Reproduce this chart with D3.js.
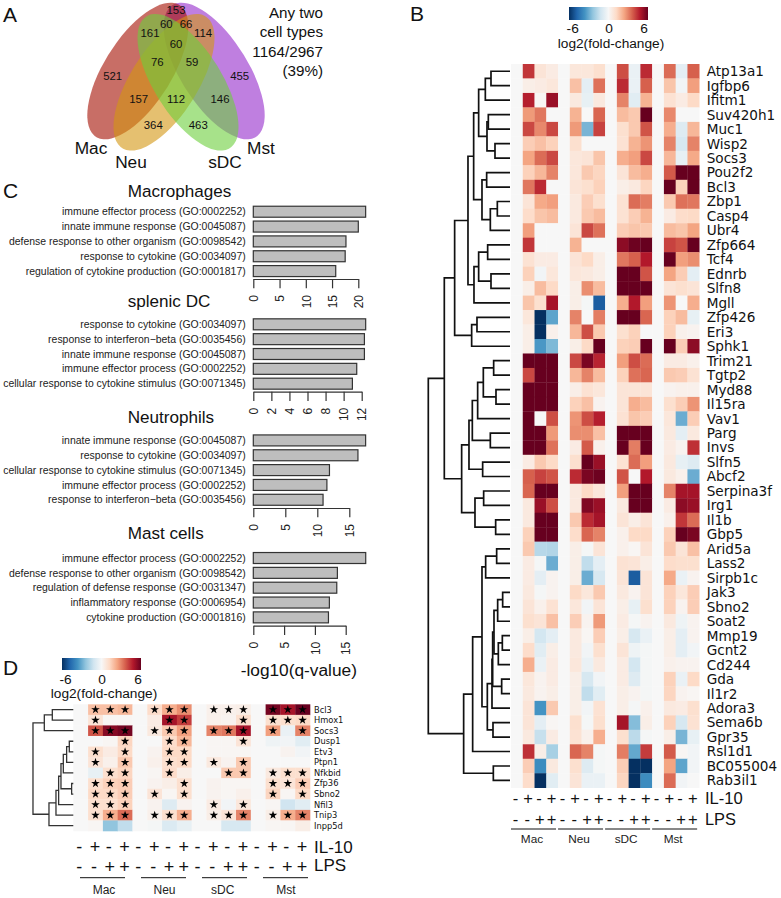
<!DOCTYPE html>
<html>
<head>
<meta charset="utf-8">
<script src="https://d3js.org/d3.v7.min.js"></script>
<style>
  body { margin: 0; background: #fff; }
  svg { display: block; font-family: "Liberation Sans", Arial, sans-serif; fill: #111; }
</style>
</head>
<body>
<svg id="fig" width="781" height="898"></svg>
<script>
// Panel A
const vennSets = ['Mst', 'Mac', 'Neu', 'sDC'];
const vennColors = ['#942acb', '#a30d00', '#d49611', '#6ccf3c'];
const vennCounts = [153, 60, 66, 161, 114, 60, 76, 59, 521, 455, 157, 112, 146, 364, 463];
const vennNote = ['Any two', 'cell types', '1164/2967', '(39%)'];

// Panel B
const genesB = ['Atp13a1', 'Igfbp6', 'Ifitm1', 'Suv420h1', 'Muc1', 'Wisp2', 'Socs3', 'Pou2f2', 'Bcl3', 'Zbp1',
  'Casp4', 'Ubr4', 'Zfp664', 'Tcf4', 'Ednrb', 'Slfn8', 'Mgll', 'Zfp426', 'Eri3', 'Sphk1',
  'Trim21', 'Tgtp2', 'Myd88', 'Il15ra', 'Vav1', 'Parg', 'Invs', 'Slfn5', 'Abcf2', 'Serpina3f',
  'Irg1', 'Il1b', 'Gbp5', 'Arid5a', 'Lass2', 'Sirpb1c', 'Jak3', 'Sbno2', 'Soat2', 'Mmp19',
  'Gcnt2', 'Cd244', 'Gda', 'Il1r2', 'Adora3', 'Sema6b', 'Gpr35', 'Rsl1d1', 'BC055004', 'Rab3il1'];

// one row per gene, IL-10+ / LPS+ / both for Mac, Neu, sDC, Mst (the untreated column is always 0)
const foldB = [
  [4.3, 0.8, 0.5, 0.7, 0.7, 1.0, 3.9, -0.4, 4.5, 3.4, -0.6, 3.6],
  [0.4, 0.5, 0.7, 1.8, -0.6, 3.3, 4.5, -0.4, 3.6, 1.7, -0.2, 2.5],
  [4.7, 0.1, 5.2, 0.6, -0.5, 0.6, 3.0, -0.7, 2.1, 0.9, 0.5, 1.2],
  [2.6, 3.2, 0, 2.1, 0, 3.5, 1.9, 1.6, 6, 2.9, 0, 0],
  [4.0, 2.9, 4.0, 2.6, -2.8, 4.1, 1.0, 1.6, 3.8, 2.2, -0.8, 2.0],
  [1.5, 1.8, 1.4, 1.0, 0, 0, 0.9, 2.1, 2.7, 3.0, -1.0, 3.0],
  [2.4, 3.4, 4.0, 0.7, 0.8, 1.7, 2.2, 2.5, 4.0, 2.0, -0.5, 2.3],
  [1.4, 2.0, 3.0, 0.7, 1.6, 1.3, 0.8, 1.9, 2.2, 3.7, 6, 6],
  [3.2, 4.5, 0, 0.8, 1.0, 1.4, 0.4, 0.6, 1.3, 6, 1.4, 6],
  [0.8, 2.3, 2.5, 0.6, 1.5, 1.0, 0.9, 3.4, 3.1, 1.6, 3.3, 3.2],
  [1.1, 1.7, 1.9, 0.6, 1.6, 1.9, 0.9, 1.5, 2.1, 0.5, 1.1, 1.2],
  [2.5, 0, 0, 0.8, 4.0, 3.3, 1.5, 1.7, 1.6, 1.9, 1.7, 2.4],
  [4.3, 0, 0, 2.1, 0, 0, 5.4, 5.9, 6, 4.1, 3.8, 6],
  [0.9, 0.5, 0.5, 0.8, 1.2, 0.4, 3.2, 3.6, 4.8, 6, 2.5, 2.8],
  [1.4, -0.2, 0.7, 0.7, 0.6, 0.4, 6, 6, 3.8, 2.4, 1.5, -0.6],
  [0.4, 1.9, 1.2, 0.4, 2.8, 1.9, 6, 6, 6, 0.8, 1.0, 0.8],
  [1.7, 1.0, 5.0, 0.4, -0.1, -5, 2.2, 4.8, 2.5, 2.7, 0, 2.2],
  [0.7, -6, -3.2, 3.0, 0, 3.1, 6, 6, 3.5, 1.4, 1.9, -0.5],
  [0.4, -6, 0.3, 2.0, 3.9, 1.6, 1.0, 1.4, 0, 1.4, 0.3, 0.2],
  [0.4, -3.5, -2.7, 0.4, 1.2, 6, 1.4, 1.5, 6, 6, 1.5, 5.4],
  [6, 6, 6, 4.0, 5.7, 4.6, 2.5, 3.9, 3.4, 0.5, 0.5, 0.3],
  [4.0, 6, 6, 2.0, 3.0, 1.9, 1.4, 3.3, 3.5, 1.6, 1.5, 0.9],
  [6, 6, 6, 0.4, 0.9, 0.7, 0.8, 0.8, 0.8, 0.2, 0.3, 0.3],
  [6, 6, 6, 1.4, 1.8, 0.2, 0.8, 2.2, 1.9, 1.0, 1.5, 2.7],
  [6, 0, 3.9, 2.7, 3.9, 4.7, 0.9, 1.7, 1.5, 0.7, -3, 1.5],
  [6, 6, 2.6, 2.8, 2.8, 1.8, 6, 6, 6, 0.6, -0.6, 0.6],
  [6, 6, 3.3, 0.5, 3.7, 0.3, 6, 3.1, 6, 0.5, 0.2, 4.4],
  [0.5, 1.6, 1.2, 1.0, 6, 5.2, 0.9, 3.4, 2.5, 0.6, -0.5, -0.8],
  [3.6, 4.1, 3.8, 4.5, 5.7, 5.9, 3.8, 0, 4.8, 0.6, 0.3, -3.0],
  [3.5, 6, 6, 0.6, 1.2, 0.7, 2.5, 6, 6, 3.0, 5, 5],
  [0.6, 5.2, 3.9, 0.6, 5.6, 5.2, 0.6, 6, 6, 0.5, 5.4, 5.2],
  [0.6, 6, 6, 1.6, 4.5, 5.0, 0.8, 0.4, 0.8, 0.3, 4.3, 3.4],
  [1.4, 6, 6, 1.1, 3.5, 3.0, 0.3, 1.2, 1.2, 1.4, 6, 5.7],
  [1.6, -1.7, -1.8, 0.4, -0.1, 0.8, 0.3, 0.1, 0.8, 1.6, 0.8, 1.8],
  [0.5, -0.1, -3, 0.4, -1.5, -0.6, 0.9, 0.8, 0.4, 1.1, 1.0, 1.0],
  [0.5, -0.6, 0.2, 0.4, -3, -1.0, 0.8, -5, 0.8, 2.3, -0.4, 0.2],
  [0.6, -0.1, 0.2, 1.2, 0.7, 1.6, 0.6, 0.2, 0.8, 1.4, 0.7, 1.5],
  [0.8, 0.3, 0.9, 0.7, -0.2, 0.8, 0.4, -0.5, 1.0, 1.4, 0.2, 1.5],
  [1.0, 0.8, 1.8, 1.5, 0.2, 2.6, 0.5, -0.1, 0.2, 0.6, -0.3, 0.2],
  [0.4, -1.1, -0.6, 0.6, 0.1, 1.5, 0.4, -1.0, -0.4, 0.4, -0.6, 0.2],
  [1.1, -0.7, 0.4, 0.6, -0.2, 1.0, 0.8, -0.3, -0.1, 0.4, -0.6, -0.2],
  [2.2, -0.4, 0.5, 0.7, -0.4, 0.6, 0.5, -1.1, -0.1, 0.3, 0.2, 0.2],
  [0.7, 0.2, 0.5, 0.4, -1.0, -0.2, 0.5, -0.8, -0.1, 1.4, -0.4, 1.2],
  [0.6, 0.2, 0.4, 0.4, -1.5, -0.7, 0.4, 0.2, -0.1, 1.3, 0.2, 0.1],
  [0.8, -3.6, 1.6, 0.4, -0.2, 0.9, 0.4, -0.1, 0.3, 0.6, 0.5, 1.0],
  [0.8, -0.6, 0.1, 1.0, -0.1, 1.0, 5, -2.6, 0.4, 1.4, -1.0, 0.9],
  [0.6, -1.4, 0.5, 0.9, 0.3, 2.2, 1.0, -1.6, -0.1, 0.4, -2.8, -0.5],
  [4.4, 0.4, -2, 3.5, 3.0, -0.1, 3.1, -3.1, 4.2, 3.7, 0.1, -0.2],
  [1.5, -3.8, 0.6, 1.0, -0.8, -0.1, 1.5, -6, -6, 2.4, -3.2, -0.2],
  [1.1, -6, -0.7, 0.8, -0.4, -0.4, 1.3, -6, -3.8, 3.4, -0.2, 0]
];

// [height, left, right], leaves are gene names
const treeB = [245,
  [197,
    [166,
      [126,
        [109,
          [94,
            [74, [57, 'Atp13a1', 'Igfbp6'], 'Ifitm1'],
            [69, [65, 'Suv420h1', 'Muc1'], [45, 'Wisp2', 'Socs3']]],
          [84,
            [70, 'Pou2f2', 'Bcl3'],
            [59, [38, 'Zbp1', 'Casp4'], 'Ubr4']]],
        [108,
          [94, [67, 'Zfp664', 'Tcf4'], [57, 'Ednrb', 'Slfn8']],
          'Mgll']],
      [115, [99, 'Zfp426', 'Eri3'], 'Sphk1']],
    [145,
      [123,
        [113,
          [97, [80, [49, 'Trim21', 'Tgtp2'], [42, 'Myd88', 'Il15ra']], 'Vav1'],
          [59, 'Parg', 'Invs']],
        [82, 'Slfn5', 'Abcf2']],
      [105, [79, 'Serpina3f', 'Irg1'], [43, 'Il1b', 'Gbp5']]]],
  [139,
    [112,
      [84,
        [73, [40, 'Arid5a', 'Lass2'], 'Sirpb1c'],
        [68,
          [54,
            [52,
              [48, [37, [22, 'Jak3', 'Sbno2'], 'Soat2'], [35, [23, 'Mmp19', 'Gcnt2'], 'Cd244']],
              [25, 'Gda', 'Il1r2']],
            'Adora3'],
          [51, 'Sema6b', 'Gpr35']]],
      'Rsl1d1'],
    [50, 'BC055004', 'Rab3il1']]];

const il10Signs = ['-', '+', '-', '+', '-', '+', '-', '+', '-', '+', '-', '+', '-', '+', '-', '+'];
const lpsSigns = ['-', '-', '+', '+', '-', '-', '+', '+', '-', '-', '+', '+', '-', '-', '+', '+'];
const cellGroups = ['Mac', 'Neu', 'sDC', 'Mst'];

// Panel C
const macTerms = ['immune effector process (GO:0002252)', 'innate immune response (GO:0045087)',
  'defense response to other organism (GO:0098542)', 'response to cytokine (GO:0034097)',
  'regulation of cytokine production (GO:0001817)'];
const macValues = [21.4, 20, 17.65, 17.5, 15.7];
const macTicks = [0, 5, 10, 15, 20];
const dcTerms = ['response to cytokine (GO:0034097)', 'response to interferon\u2212beta (GO:0035456)',
  'innate immune response (GO:0045087)', 'immune effector process (GO:0002252)',
  'cellular response to cytokine stimulus (GO:0071345)'];
const dcValues = [12.44, 12.3, 12.3, 11.45, 10.97];
const dcTicks = [0, 2, 4, 6, 8, 10, 12];
const neuTerms = ['innate immune response (GO:0045087)', 'response to cytokine (GO:0034097)',
  'cellular response to cytokine stimulus (GO:0071345)', 'immune effector process (GO:0002252)',
  'response to interferon\u2212beta (GO:0035456)'];
const neuValues = [17.55, 16.35, 11.9, 11.5, 10.9];
const neuTicks = [0, 5, 10, 15];
const mastTerms = ['immune effector process (GO:0002252)', 'defense response to other organism (GO:0098542)',
  'regulation of defense response (GO:0031347)', 'inflammatory response (GO:0006954)',
  'cytokine production (GO:0001816)'];
const mastValues = [18.25, 13.65, 13.55, 12.35, 12.2];
const mastTicks = [0, 5, 10, 15];

// Panel D
const genesD = ['Bcl3', 'Hmox1', 'Socs3', 'Dusp1', 'Etv3', 'Ptpn1', 'Nfkbid', 'Zfp36', 'Sbno2', 'Nfil3', 'Tnip3', 'Inpp5d'];
const foldD = [
  [1.8, 1.8, 2.0, 1.1, 2.2, 2.8, 0.3, 0.3, 0.4, 5.8, 5, 6],
  [0.8, 0.1, 0.1, 0.5, 5, 4.2, 0.3, 0.2, 1.0, 1.0, 1.0, 1.2],
  [3.8, 5.5, 5.8, 0.6, 1.6, 2.5, 3, 3.2, 5.0, 2.5, -0.4, 3],
  [0, 0.1, 1.3, 0, 1.1, 2.0, 0.1, 0.1, 0.8, -0.3, -0.2, -0.7],
  [1.0, 0.5, 1.2, 0.2, 1.2, 1.2, 0.1, 0.1, 0.1, 0, 0.2, -0.2],
  [0.8, 0.3, 1.6, 0.3, 1.0, 1.2, 0.6, 0.2, 1.6, 0, 0, 0],
  [-0.5, 1.0, 1.3, 0.1, 1.1, 0.4, 0, 1.6, 1.6, 0.6, 1.0, 1.0],
  [1.0, 1.4, 1.5, 0.2, 0.4, 1.0, 0.2, 0.1, 0.1, 1.0, 0.8, 1.5],
  [1.2, 1.2, 1.5, 0.8, 0.1, 1.0, 0.2, 0.1, 0.3, 1.3, 0.1, 1.2],
  [1.0, 1.0, 1.4, 0.2, -0.8, 0.2, 0.5, -0.2, 0.7, 0.1, -1.2, -0.7],
  [1, 2.2, 3.4, 0.3, 1.0, 2.2, 0.4, 0.8, 3, 0.4, 2.2, 3.0],
  [0.1, -2.4, -1.5, -0.1, -0.9, -0.5, 0, -1, -1, 0.1, 0.1, 0.4]
];
// columns carrying a significance star, per row
const starsD = [
  [1, 2, 3, 5, 6, 7, 9, 10, 11, 13, 14, 15],
  [1, 6, 7, 11, 13, 14, 15],
  [1, 2, 3, 5, 6, 7, 9, 10, 11, 13, 15],
  [3, 6, 7, 11],
  [1, 3, 6, 7],
  [1, 3, 6, 7, 9, 11],
  [2, 3, 6, 10, 11, 13, 14, 15],
  [1, 2, 3, 7, 13, 14, 15],
  [1, 2, 3, 5, 7, 13, 15],
  [1, 2, 3, 9, 11],
  [1, 2, 3, 5, 6, 7, 9, 10, 11, 13, 14, 15],
  []
];
const treeD = [121,
  [87, [63, 'Bcl3', 'Hmox1'], 'Socs3'],
  [73,
    [52,
      [44,
        [37,
          [30, [20, [12, 'Dusp1', 'Etv3'], 'Ptpn1'], 'Nfkbid'],
          [5, 'Zfp36', 'Sbno2']],
        'Nfil3'],
      'Tnip3'],
    'Inpp5d']];

const RDBU = ['#053061', '#2166ac', '#4393c3', '#92c5de', '#d1e5f0', '#f7f7f7', '#fddbc7', '#f4a582', '#d6604d', '#b2182b', '#67001f'];

const svg = d3.select('#fig');
const color = d3.scaleLinear().domain(d3.range(11).map(i => -6 + i * 1.2)).range(RDBU).clamp(true);

function addText(g, x, y, str, size, anchor = 'start', family = null) {
  const t = g.append('text')
    .attr('x', x)
    .attr('y', y)
    .attr('text-anchor', anchor)
    .style('font-size', `${size}px`)
    .text(str);
  if (family) t.style('font-family', family);
  return t;
}

// panel letters
[['A', 3, 22], ['B', 410, 21], ['C', 3, 198], ['D', 3, 675]].forEach(([l, x, y]) => addText(svg, x, y, l, 21));

// ---- A: venn ----
(function drawVenn() {
  const g = svg.append('g');
  // same ellipse four times, mirrored around the 112 region
  const vennCx = { Mac: 137.8, Neu: 164, sDC: 188, Mst: 214.2 };
  const vennCy = { Mac: 71, Neu: 82.3, sDC: 82.3, Mst: 71 };
  const vennTilt = { Mac: 45, Neu: 45, sDC: -45, Mst: -45 };
  const W = 50.5, H = 68.3, r = Math.sqrt((2.17 * 2.17 + 1) / 2);

  g.selectAll('ellipse')
    .data(vennSets)
    .enter()
    .append('ellipse')
    .attr('rx', 2.17)
    .attr('ry', 1)
    .attr('transform', d => `translate(${vennCx[d]},${vennCy[d]}) scale(${W / r},${H / r}) rotate(${-vennTilt[d]})`)
    .attr('fill', (d, i) => vennColors[i])
    .attr('fill-opacity', 0.6);

  const slotX = [176, 166.3, 186, 150, 203, 176, 157.3, 192, 112.7, 239.7, 138.7, 176, 220, 153.3, 198.3];
  const slotY = [10, 24.3, 24.3, 33.3, 33.3, 44, 61.7, 61.7, 76.3, 76.3, 99.3, 99.3, 99.3, 124.7, 124.7];
  g.selectAll('text.count')
    .data(vennCounts)
    .enter()
    .append('text')
    .attr('class', 'count')
    .attr('x', (d, i) => slotX[i])
    .attr('y', (d, i) => slotY[i])
    .attr('dy', '.35em')
    .attr('text-anchor', 'middle')
    .style('font-size', '11.4px')
    .text(d => d);

  addText(g, 91, 154, 'Mac', 17.3, 'middle');
  addText(g, 131, 168, 'Neu', 17.3, 'middle');
  addText(g, 225, 168, 'sDC', 17.3, 'middle');
  addText(g, 261, 154, 'Mst', 17.3, 'middle');

  vennNote.forEach((line, i) => addText(g, 323, 18 + i * 19.4, line, 15.2, 'end'));
})();

// ---- shared heatmap bits ----
function drawColorbar(parent, x, y, w, h, id, labelXs, labelY, titleX, titleY) {
  const defs = parent.append('defs');
  const grad = defs.append('linearGradient').attr('id', id);
  grad.selectAll('stop')
    .data(RDBU)
    .enter()
    .append('stop')
    .attr('offset', (d, i) => i / 10)
    .attr('stop-color', d => d);
  parent.append('rect')
    .attr('x', x).attr('y', y).attr('width', w).attr('height', h)
    .attr('fill', `url(#${id})`);
  ['-6', '0', '6'].forEach((l, i) => addText(parent, labelXs[i], labelY, l, 13.7, 'middle'));
  addText(parent, titleX, titleY, 'log2(fold-change)', 13.7, 'middle');
}

function drawDendro(parent, tree, xScale, yOf, strokeColor, strokeWidth) {
  const links = [];
  function walk(node) {
    if (typeof node === 'string') return { y: yOf(node), h: 0 };
    const a = walk(node[1]);
    const b = walk(node[2]);
    links.push(`M${xScale(a.h)},${a.y}H${xScale(node[0])}V${b.y}H${xScale(b.h)}`);
    return { y: (a.y + b.y) / 2, h: node[0] };
  }
  walk(tree);
  parent.selectAll('path.link')
    .data(links)
    .enter()
    .append('path')
    .attr('class', 'link')
    .attr('d', d => d)
    .attr('fill', 'none')
    .attr('stroke', strokeColor)
    .attr('stroke-width', strokeWidth);
}

function expandRow(row) {
  return row.flatMap((v, i) => (i % 3 === 0 ? [0, v] : [v]));
}

function drawCells(parent, genes, fold, x, y) {
  const rows = parent.selectAll('g.row')
    .data(genes)
    .enter()
    .append('g')
    .attr('class', 'row')
    .attr('transform', d => `translate(0,${y(d)})`);
  rows.selectAll('rect')
    .data((d, i) => expandRow(fold[i]))
    .enter()
    .append('rect')
    .attr('x', (d, i) => x(i))
    .attr('width', x.bandwidth() + 0.3)
    .attr('height', y.bandwidth() + 0.3)
    .attr('fill', d => color(d));
}

function drawSigns(parent, signs, x, yPos, size) {
  parent.selectAll(null)
    .data(signs)
    .enter()
    .append('text')
    .attr('x', (d, i) => x(i) + x.bandwidth() / 2 - (d === '-' ? 1.5 : 0.5))
    .attr('y', yPos)
    .attr('dy', '.35em')
    .attr('text-anchor', 'middle')
    .style('font-size', `${size}px`)
    .text(d => d);
}

// ---- B: big heatmap ----
(function drawB() {
  const g = svg.append('g');
  drawColorbar(g, 569, 7, 79, 13, 'cbarB', [572.7, 609, 644], 33, 611, 48);

  const x = d3.scaleBand().domain(d3.range(16)).range([511, 699.2]);
  const y = d3.scaleBand().domain(genesB).range([64, 787.7]);
  drawCells(g, genesB, foldB, x, y);

  g.selectAll('text.gene')
    .data(genesB)
    .enter()
    .append('text')
    .attr('class', 'gene')
    .attr('x', 706.7)
    .attr('y', d => y(d) + y.bandwidth() / 2)
    .attr('dy', '.36em')
    .style('font-family', '"DejaVu Sans"')
    .style('font-size', '13.6px')
    .text(d => d);

  const h = d3.scaleLinear().domain([0, 245]).range([510, 428.3]);
  drawDendro(g, treeB, h, d => y(d) + y.bandwidth() / 2, '#111', 1.7);

  drawSigns(g, il10Signs, x, 798, 16.5);
  drawSigns(g, lpsSigns, x, 819, 16.5);
  addText(g, 705, 804, 'IL-10', 16.6);
  addText(g, 705, 825, 'LPS', 16.4);

  cellGroups.forEach((name, i) => {
    const x0 = x(i * 4);
    g.append('line')
      .attr('x1', x0).attr('x2', x0 + 45)
      .attr('y1', 829).attr('y2', 829)
      .attr('stroke', '#111').attr('stroke-width', 1);
    addText(g, x0 + 21, 842.7, name, 11.8, 'middle').style('fill', '#222');
  });
})();

// ---- C: GO term bars ----
function drawBars(title, titleY, terms, values, ticks, axisMax, axisEnd, barTop, axisY) {
  const g = svg.append('g');
  addText(g, 127.7, titleY, title, 17.1);

  const x = d3.scaleLinear().domain([0, axisMax]).range([253.3, axisEnd]);
  const y = d3.scaleBand().domain(terms).range([barTop, barTop + 74.2]).paddingInner(0.26).paddingOuter(0.13);

  g.selectAll('rect')
    .data(values)
    .enter()
    .append('rect')
    .attr('x', x(0))
    .attr('y', (d, i) => y(terms[i]))
    .attr('width', d => x(d) - x(0))
    .attr('height', y.bandwidth())
    .attr('fill', '#bebebe')
    .attr('stroke', '#333')
    .attr('stroke-width', 1.2);

  g.selectAll('text.term')
    .data(terms)
    .enter()
    .append('text')
    .attr('class', 'term')
    .attr('x', 245.7)
    .attr('y', d => y(d) + y.bandwidth() / 2)
    .attr('dy', '.35em')
    .attr('text-anchor', 'end')
    .style('font-size', '10.45px')
    .style('fill', '#222')
    .text(d => d);

  const axis = d3.axisBottom(x).tickValues(ticks).tickSize(9.3).tickSizeOuter(0).tickFormat(d3.format('d'));
  const ax = g.append('g').attr('transform', `translate(0,${axisY})`).call(axis);
  ax.select('.domain').attr('stroke', '#333').attr('stroke-width', 1.2);
  ax.selectAll('.tick line').attr('stroke', '#333').attr('stroke-width', 1.2);
  ax.selectAll('.tick text')
    .attr('x', -16)
    .attr('y', 0)
    .attr('dy', '.35em')
    .attr('text-anchor', 'end')
    .attr('transform', 'rotate(-90)')
    .style('font-family', '"Liberation Sans", Arial, sans-serif')
    .style('font-size', '12px')
    .style('fill', '#222');
}

drawBars('Macrophages', 196.7, macTerms, macValues, macTicks, 20, 358.3, 204.3, 279);
drawBars('splenic DC', 307.3, dcTerms, dcValues, dcTicks, 12, 361.7, 316.9, 391.7);
drawBars('Neutrophils', 423.3, neuTerms, neuValues, neuTicks, 15, 349.3, 433, 508);
drawBars('Mast cells', 539.3, mastTerms, mastValues, mastTicks, 15, 345.7, 550.6, 625.7);
addText(svg, 240.7, 676, '-log10(q-value)', 17.3);

// ---- D: selected genes heatmap ----
(function drawD() {
  const g = svg.append('g');
  drawColorbar(g, 62, 658, 79, 12, 'cbarD', [65.5, 102, 138], 684, 104, 698);

  const x = d3.scaleBand().domain(d3.range(16)).range([73.3, 310]);
  const y = d3.scaleBand().domain(genesD).range([704.3, 831]);
  drawCells(g, genesD, foldD, x, y);

  const star = d3.symbol().type(d3.symbolStar).size(23);
  const starCells = starsD.flatMap((cols, r) => cols.map(c => ({ gene: genesD[r], c })));
  g.selectAll('path.star')
    .data(starCells)
    .enter()
    .append('path')
    .attr('class', 'star')
    .attr('d', star)
    .attr('fill', '#000')
    .attr('transform', d => `translate(${x(d.c) + x.bandwidth() / 2},${y(d.gene) + y.bandwidth() / 2})`);

  g.selectAll('text.gene')
    .data(genesD)
    .enter()
    .append('text')
    .attr('class', 'gene')
    .attr('x', 314)
    .attr('y', d => y(d) + y.bandwidth() / 2)
    .attr('dy', '.36em')
    .style('font-family', '"DejaVu Sans"')
    .style('font-size', '8.3px')
    .text(d => d);

  const h = d3.scaleLinear().domain([0, 220]).range([73.3, 0]);
  drawDendro(g, treeD, h, d => y(d) + y.bandwidth() / 2, '#333', 1.3);

  drawSigns(g, il10Signs, x, 847, 18);
  drawSigns(g, lpsSigns, x, 867, 18);
  addText(g, 314, 853, 'IL-10', 17);
  addText(g, 314, 871, 'LPS', 17);

  const groupRule = d3.scaleBand().domain(cellGroups).range([80, 324]);
  const labelX = { Mac: 104, Neu: 164.5, sDC: 222.7, Mst: 286 };
  cellGroups.forEach(name => {
    const x0 = groupRule(name);
    g.append('line')
      .attr('x1', x0).attr('x2', x0 + 45)
      .attr('y1', 877.7).attr('y2', 877.7)
      .attr('stroke', '#111').attr('stroke-width', 1);
    addText(g, labelX[name], 894.3, name, 12, 'middle').style('fill', '#222');
  });
})();
</script>
</body>
</html>
